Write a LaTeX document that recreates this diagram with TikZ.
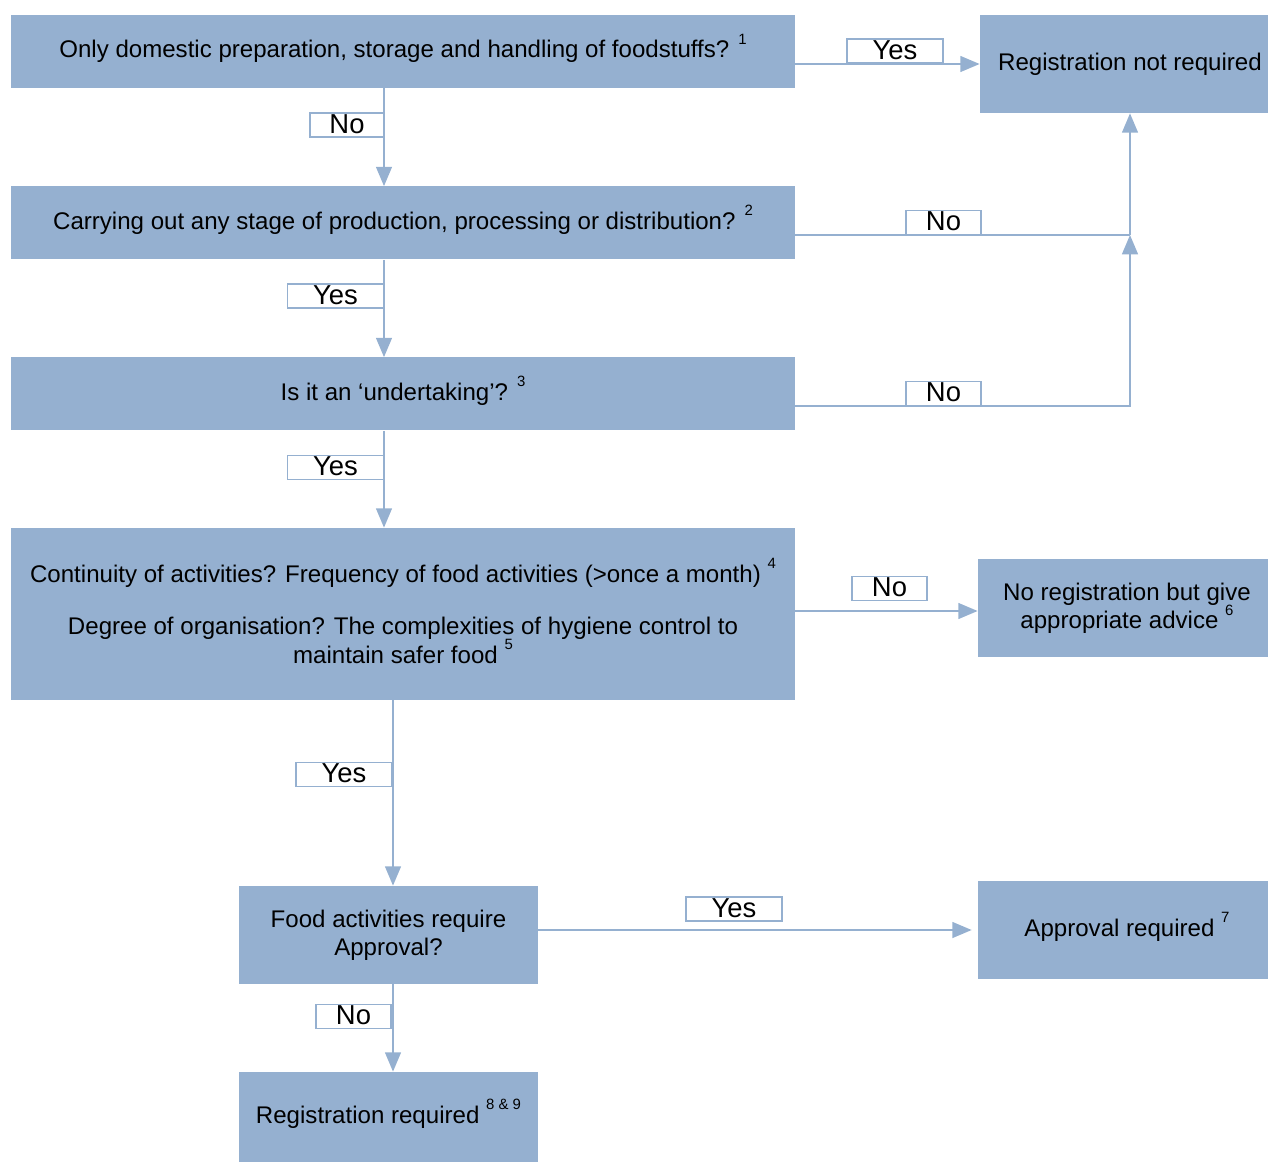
\documentclass[tikz,border=0pt]{standalone}
\usepackage{fontspec}
\setmainfont{Liberation Sans}
\usetikzlibrary{arrows.meta}
\definecolor{boxblue}{RGB}{149,176,208}
\newcommand{\fnote}[1]{\smash{\raisebox{0.55em}{\fontsize{8.5}{9}\selectfont #1}}}

\begin{document}
\begin{tikzpicture}[
    block/.style={fill=boxblue, align=center, inner sep=3pt, font=\fontsize{13.7}{16}\selectfont},
    question/.style={block, minimum width=15.68cm, minimum height=1.46cm},
    outcome/.style={block, minimum width=5.96cm, minimum height=1.96cm},
    answer/.style={draw=boxblue, line width=0.8pt, fill=white, inner sep=0pt,
        minimum width=#1, text height=11.5pt, text depth=2pt, font=\fontsize{15.6}{16}\selectfont},
    answer/.default=1.92cm,
    link/.style={draw=boxblue, line width=1.1pt},
    flow/.style={link, -{Triangle[length=11pt,width=9pt]}}]
    \useasboundingbox (0,0) rectangle (25.36,-23.24);

    % Define coordinates
    \coordinate (trunkA) at (7.68,0);
    \coordinate (trunkB) at (7.86,0);
    \coordinate (join) at (22.6,-4.7);
    \coordinate (bend) at (22.6,-8.12);

    % Questions
    \node[question] (dom) at (8.06,-1.03) {Only domestic preparation, storage and handling of foodstuffs? \fnote{1}};
    \node[question] (stage) at (8.06,-4.46) {Carrying out any stage of production, processing or distribution? \fnote{2}};
    \node[question] (undert) at (8.06,-7.88) {Is it an ‘undertaking’? \fnote{3}};
    \node[question, minimum height=3.44cm] (cont) at (8.06,-12.28)
        {Continuity of activities? Frequency of food activities (>once a month) \fnote{4}\\[14pt]
         Degree of organisation? The complexities of hygiene control to\\ maintain safer food \fnote{5}};
    \node[block, minimum width=5.98cm, minimum height=1.96cm] (appr) at (7.77,-18.7) {Food activities require\\ Approval?};

    % Outcomes (cut by the right edge)
    \node[outcome, minimum width=6cm] (notreq) at (22.6,-1.28) {Registration not required};
    \node[outcome] (advice) at (22.54,-12.16) {No registration but give\\ appropriate advice \fnote{6}};
    \node[outcome] (approval) at (22.54,-18.6) {Approval required \fnote{7}};
    \node[block, minimum width=5.98cm, minimum height=1.8cm] (regreq) at (7.77,-22.34) {Registration required \fnote{8 \& 9}};
    \coordinate (advin) at ([yshift=-0.06cm]advice.west);

    % Connectors
    \draw[flow] (dom.east |- notreq) -- (notreq.west);
    \draw[flow] (dom.south -| trunkA) -- (stage.north -| trunkA);
    \draw[link] (stage.east |- join) -- (join);
    \draw[flow] (join) -- (notreq.south -| join);
    \draw[flow] (stage.south -| trunkA) -- (undert.north -| trunkA);
    \draw[flow] (undert.east |- bend) -- (bend) -- (join);
    \draw[flow] (undert.south -| trunkA) -- (cont.north -| trunkA);
    \draw[flow] (cont.east |- advin) -- (advin);
    \draw[flow] (cont.south -| trunkB) -- (appr.north -| trunkB);
    \draw[flow, shorten >=3.4pt] (appr.east |- approval) -- (approval.west);
    \draw[flow] (appr.south -| trunkB) -- (regreq.north -| trunkB);

    % Answers
    \node[answer] (yes1) at (17.9,-1.02) {Yes};
    \node[answer=1.48cm] (no1) at (6.94,-2.5) {No};
    \node[answer=1.5cm] (no2) at (18.87,-4.45) {No};
    \node[answer] (yes2) at (6.71,-5.92) {Yes};
    \node[answer=1.5cm] (no3) at (18.87,-7.87) {No};
    \node[answer] (yes3) at (6.71,-9.35) {Yes};
    \node[answer=1.5cm] (no4) at (17.79,-11.77) {No};
    \node[answer] (yes4) at (6.88,-15.49) {Yes};
    \node[answer] (yes5) at (14.68,-18.18) {Yes};
    \node[answer=1.5cm] (no5) at (7.07,-20.33) {No};
\end{tikzpicture}
\end{document}
